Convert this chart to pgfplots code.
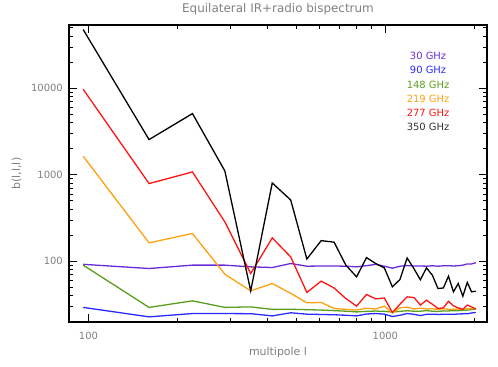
\documentclass[border=0pt]{standalone}
\usepackage{fontspec}
\setmainfont{DejaVu Sans}
\usepackage{pgfplots}
\usepackage{pgfplotstable}
\pgfplotsset{compat=1.18}
\definecolor{txtGray}{HTML}{808080}
\definecolor{cPurple}{HTML}{6A2AD8}
\definecolor{cBlue}{HTML}{2A2AFF}
\definecolor{cGreen}{HTML}{5A9E1E}
\definecolor{cOrange}{HTML}{FFA010}
\definecolor{cRed}{HTML}{FF1414}

% equilateral bispectrum b(l,l,l) per frequency
\pgfplotstableread{
l    f30   f90   f148  f219  f277  f350
96   92    29.2  90    1636  9730  47800
160  82.3  22.7  29.2  163   791   2550
224  90    24.8  34.8  209   1077  5100
288  90    24.8  29.2  70.7  285   1107
352  86    24.7  29.6  45.4  72    45.4
416  84.5  23.3  27.7  55.2  186   804
480  94    25.3  27.8  42.5  112   510
544  87.5  24.4  27.5  33    43.5  106
608  88    24.2  27.2  33.3  58.8  173
672  88    24.0  26.8  28.4  49    166
736  87.5  23.7  26.4  27.7  37    90
800  86    23.3  25.9  27.2  30.2  65.9
864  88.7  24.5  26.3  28.6  41.2  110
928  92    24.8  26.5  28    36.6  94
992  87.5  24.4  26.3  30.2  37.6  83.7
1056 83    22.9  25.8  25.3  25.5  50.5
1120 87.5  23.7  26.3  28.9  31.8  61.4
1184 89    24.8  26.7  29.4  38.7  109
1248 88    24.3  26.4  28    38    82
1312 88    23.5  26.4  28.6  31.1  61
1376 87.5  24.3  26.8  28    35.4  83.7
1440 88.5  24.4  26.4  28.2  31.8  68.9
1504 87.5  24.2  26.2  27.6  28.4  48.3
1568 88.5  24.3  26.6  28.2  28.9  49
1632 88.7  24.4  26.6  27.8  34.4  67
1696 88    24.3  26.8  27.8  30.4  44.2
1760 88.7  24.5  26.8  28    28.9  55.2
1824 90    24.6  27    27.6  27.7  39.4
1888 93    24.6  27.2  28.2  31.1  56.8
1952 93    25.2  27.5  28.2  29.6  44.2
2016 96    25.5  28    28.5  28    45
}\bisp

\begin{document}
\begin{tikzpicture}
\useasboundingbox (-69bp,-45bp) rectangle (429bp,322bp);
\begin{axis}[
    at={(0,0)}, anchor=south west,
    scale only axis,
    width=418bp, height=297bp,
    xmode=log, ymode=log,
    xmin=86, xmax=2200,
    ymin=19.8, ymax=54000,
    xtick={100,1000}, xticklabels={100,1000},
    ytick={100,1000,10000}, yticklabels={100,1000,10000},
    minor xtick={200,300,400,500,600,700,800,900,2000},
    minor ytick={20,30,40,50,60,70,80,90,200,300,400,500,600,700,800,900,
                 2000,3000,4000,5000,6000,7000,8000,9000,20000,30000,40000,50000},
    tick align=inside,
    major tick length=8bp, minor tick length=4bp,
    tick style={black, line width=0.8bp},
    axis line style={black, line width=1.2bp},
    ticklabel style={font=\fontsize{10}{12}\selectfont, text=txtGray, inner sep=0pt},
    xticklabel style={anchor=center, yshift=-14bp},
    yticklabel style={anchor=east, xshift=-6bp},
    title={Equilateral IR+radio bispectrum},
    title style={font=\fontsize{12}{14}\selectfont, text=txtGray,
                 at={(axis description cs:0.5,1.034)}, anchor=center},
    xlabel={multipole l},
    xlabel style={font=\fontsize{11}{13}\selectfont, text=txtGray,
                  at={(axis description cs:0.5,-0.101)}, anchor=center},
    ylabel={b(l,l,l)},
    ylabel style={font=\fontsize{11}{13}\selectfont, text=txtGray,
                  at={(axis description cs:-0.125,0.5)}, anchor=center},
    every axis plot/.append style={line width=1.3bp},
]
\addplot[cPurple] table[x=l, y=f30] {\bisp};
\addplot[cBlue] table[x=l, y=f90] {\bisp};
\addplot[cGreen] table[x=l, y=f148] {\bisp};
\addplot[cOrange] table[x=l, y=f219] {\bisp};
\addplot[cRed] table[x=l, y=f277] {\bisp};
\addplot[black] table[x=l, y=f350] {\bisp};
\begin{scope}[every node/.style={font=\fontsize{10}{12}\selectfont, anchor=center}]
\node[text=cPurple] at (axis description cs:0.859,0.896) {30 GHz};
\node[text=cBlue]   at (axis description cs:0.859,0.848) {90 GHz};
\node[text=cGreen]  at (axis description cs:0.859,0.800) {148 GHz};
\node[text=cOrange] at (axis description cs:0.859,0.752) {219 GHz};
\node[text=cRed]    at (axis description cs:0.859,0.705) {277 GHz};
\node[text=black!80] at (axis description cs:0.859,0.658) {350 GHz};
\end{scope}
\end{axis}
\end{tikzpicture}
\end{document}
